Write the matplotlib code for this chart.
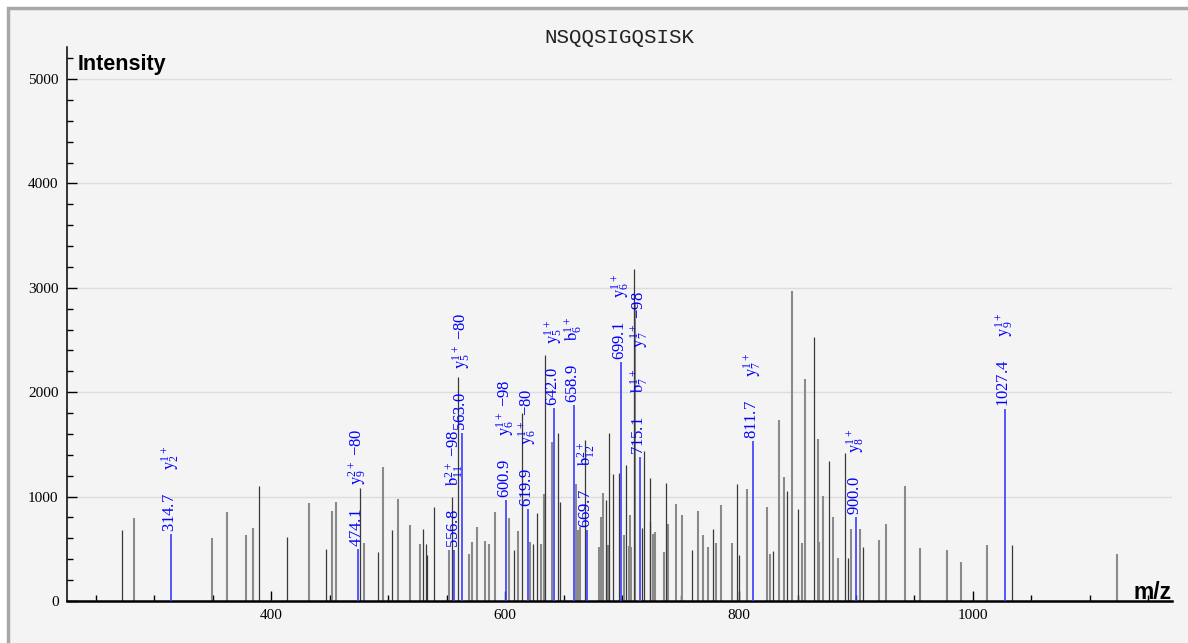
import matplotlib
matplotlib.use("Agg")
import matplotlib.pyplot as plt
from matplotlib.patches import Rectangle
from matplotlib.ticker import MultipleLocator

plt.rcParams['mathtext.fontset'] = 'stix'
plt.rcParams['mathtext.default'] = 'regular'

title = "NSQQSIGQSISK"

# unannotated peaks drawn in grey
gray_mz = [282.9, 349.6, 362.1, 378.4, 384.3, 432.5, 451.9, 455.6, 479.5, 495.7,
           508.5, 518.8, 527.1, 552.4, 569.5, 571.5, 575.8, 582.6, 586.6, 591.7,
           603.7, 610.9, 621.4, 630.5, 633.3, 640.2, 661.0, 662.4, 664.4, 680.6,
           682.3, 684.0, 687.8, 701.7, 705.7, 706.8, 708.0, 711.4, 726.2, 727.9,
           735.9, 739.3, 746.2, 751.3, 764.7, 769.2, 773.2, 780.3, 784.4, 794.0,
           806.6, 823.7, 826.2, 834.4, 838.2, 845.3, 853.8, 856.4, 867.3, 868.4,
           871.5, 880.1, 884.6, 895.5, 903.4, 919.4, 925.6, 941.5, 955.0, 977.5,
           989.5, 1011.7, 1122.8]
gray_int = [792, 603, 853, 632, 696, 936, 862, 948, 553, 1280,
            974, 725, 543, 489, 450, 562, 706, 572, 543, 853,
            795, 673, 568, 546, 1025, 1526, 1121, 680, 712, 514,
            808, 1031, 536, 632, 527, 821, 514, 2850, 642, 661,
            469, 738, 929, 821, 865, 632, 520, 559, 917, 553,
            1073, 897, 450, 1731, 1191, 2969, 553, 2124, 1549, 568,
            1006, 802, 409, 690, 687, 584, 738, 1102, 505, 489,
            377, 536, 447]

# unannotated peaks drawn in dark grey
dark_mz = [272.9, 390.0, 413.4, 447.3, 476.3, 491.2, 503.4, 530.2, 532.5, 533.3,
           539.6, 555.0, 560.1, 607.7, 614.3, 623.9, 627.0, 634.5, 645.6, 647.3,
           668.1, 686.6, 688.9, 692.0, 697.2, 703.2, 710.0, 717.4, 719.0, 723.6,
           724.2, 737.4, 760.1, 778.0, 798.5, 800.3, 829.3, 841.3, 850.4, 864.4,
           877.2, 890.3, 893.4, 906.2, 1033.6]
dark_int = [680, 1101, 616, 495, 1079, 472, 680, 693, 546, 441,
            897, 1000, 2143, 489, 1798, 546, 840, 2356, 1606, 951,
            1542, 967, 1606, 1216, 1229, 1303, 3177, 702, 1434, 769,
            1175, 1127, 489, 693, 1121, 441, 476, 1057, 878, 2532,
            1341, 1415, 409, 514, 536]

# annotated (matched) peaks
ann_mz = [314.7, 474.1, 556.8, 563.0, 600.9, 619.9, 642.0, 658.9, 669.7, 699.1,
          715.1, 811.7, 900.0, 1027.4]
ann_int = [642, 495, 489, 1612, 967, 878, 1846, 1877, 680, 2292,
           1376, 1536, 802, 1836]
ann_ions = [r"$\mathrm{y}_{2}^{1+}$",
            r"$\mathrm{y}_{9}^{2+}$ $-$80",
            r"$\mathrm{b}_{11}^{2+}$ $-$98",
            r"$\mathrm{y}_{5}^{1+}$ $-$80",
            r"$\mathrm{y}_{6}^{1+}$ $-$98",
            r"$\mathrm{y}_{6}^{1+}$ $-$80",
            r"$\mathrm{y}_{5}^{1+}$",
            r"$\mathrm{b}_{6}^{1+}$",
            r"$\mathrm{b}_{12}^{2+}$",
            r"$\mathrm{y}_{6}^{1+}$",
            r"$\mathrm{b}_{7}^{1+}$     $\mathrm{y}_{7}^{1+}$ $-$98",
            r"$\mathrm{y}_{7}^{1+}$",
            r"$\mathrm{y}_{8}^{1+}$",
            r"$\mathrm{y}_{9}^{1+}$"]

W, H = 1188, 643
fig = plt.figure(figsize=(W / 100, H / 100), dpi=100)
fig.patch.set_facecolor('white')
# panel background with grey frame (top/left visible)
fig.patches.append(Rectangle((8 / W, -0.05), 1.2, 1 - 8 / H + 0.05,
                             transform=fig.transFigure, facecolor='#f4f4f4',
                             edgecolor='#a8a8a8', linewidth=2.5, zorder=-10))

ax = fig.add_axes([67 / W, (H - 601) / H, (1172 - 67) / W, (601 - 47) / H])
ax.set_facecolor('#f4f4f4')
ax.patch.set_alpha(0)
ax.set_xlim(225.6, 1170.1)
ax.set_ylim(0, 5307)

for s in ['top', 'right']:
    ax.spines[s].set_visible(False)
ax.spines['left'].set_linewidth(1.1)
ax.spines['bottom'].set_linewidth(1.8)

ax.yaxis.set_major_locator(MultipleLocator(1000))
ax.yaxis.set_minor_locator(MultipleLocator(200))
ax.xaxis.set_major_locator(MultipleLocator(200))
ax.xaxis.set_minor_locator(MultipleLocator(50))
ax.tick_params(axis='both', which='major', direction='in', length=7.5, width=1.0,
               labelsize=11, pad=6)
ax.tick_params(axis='both', which='minor', direction='in', length=4.5, width=1.0)
for lab in ax.get_xticklabels() + ax.get_yticklabels():
    lab.set_fontfamily('Liberation Serif')

ax.yaxis.grid(True, which='major', color='#dddddd', linewidth=1.0)
ax.set_axisbelow(True)

ax.vlines(gray_mz, 0, gray_int, colors='#8a8a8a', linewidth=1.5, zorder=2)
ax.vlines(dark_mz, 0, dark_int, colors='#3a3a3a', linewidth=0.9, zorder=2)
ax.vlines(ann_mz, 0, ann_int, colors='#3b3bff', linewidth=1.2, zorder=3)

for mz, it, ion in zip(ann_mz, ann_int, ann_ions):
    label = f"{mz:.1f}      " + ion
    ax.annotate(label, xy=(mz, it), xytext=(0, 1.5), textcoords='offset points',
                rotation=90, ha='center', va='bottom', color='#0000ff',
                fontsize=12, family='Liberation Serif', zorder=4)

fig.text(619.5 / W, 1 - 43 / H, title, ha='center', va='baseline',
         family='Liberation Mono', fontsize=15, color='#222222')
fig.text(78 / W, 1 - 70 / H, "Intensity", ha='left', va='baseline',
         family='Liberation Sans', fontweight='bold', fontsize=15.5)
fig.text(1172 / W, 1 - 599 / H, "m/z", ha='right', va='baseline',
         family='Liberation Sans', fontweight='bold', fontsize=16.5)

fig.savefig("out.png", dpi=100, facecolor=fig.get_facecolor())
